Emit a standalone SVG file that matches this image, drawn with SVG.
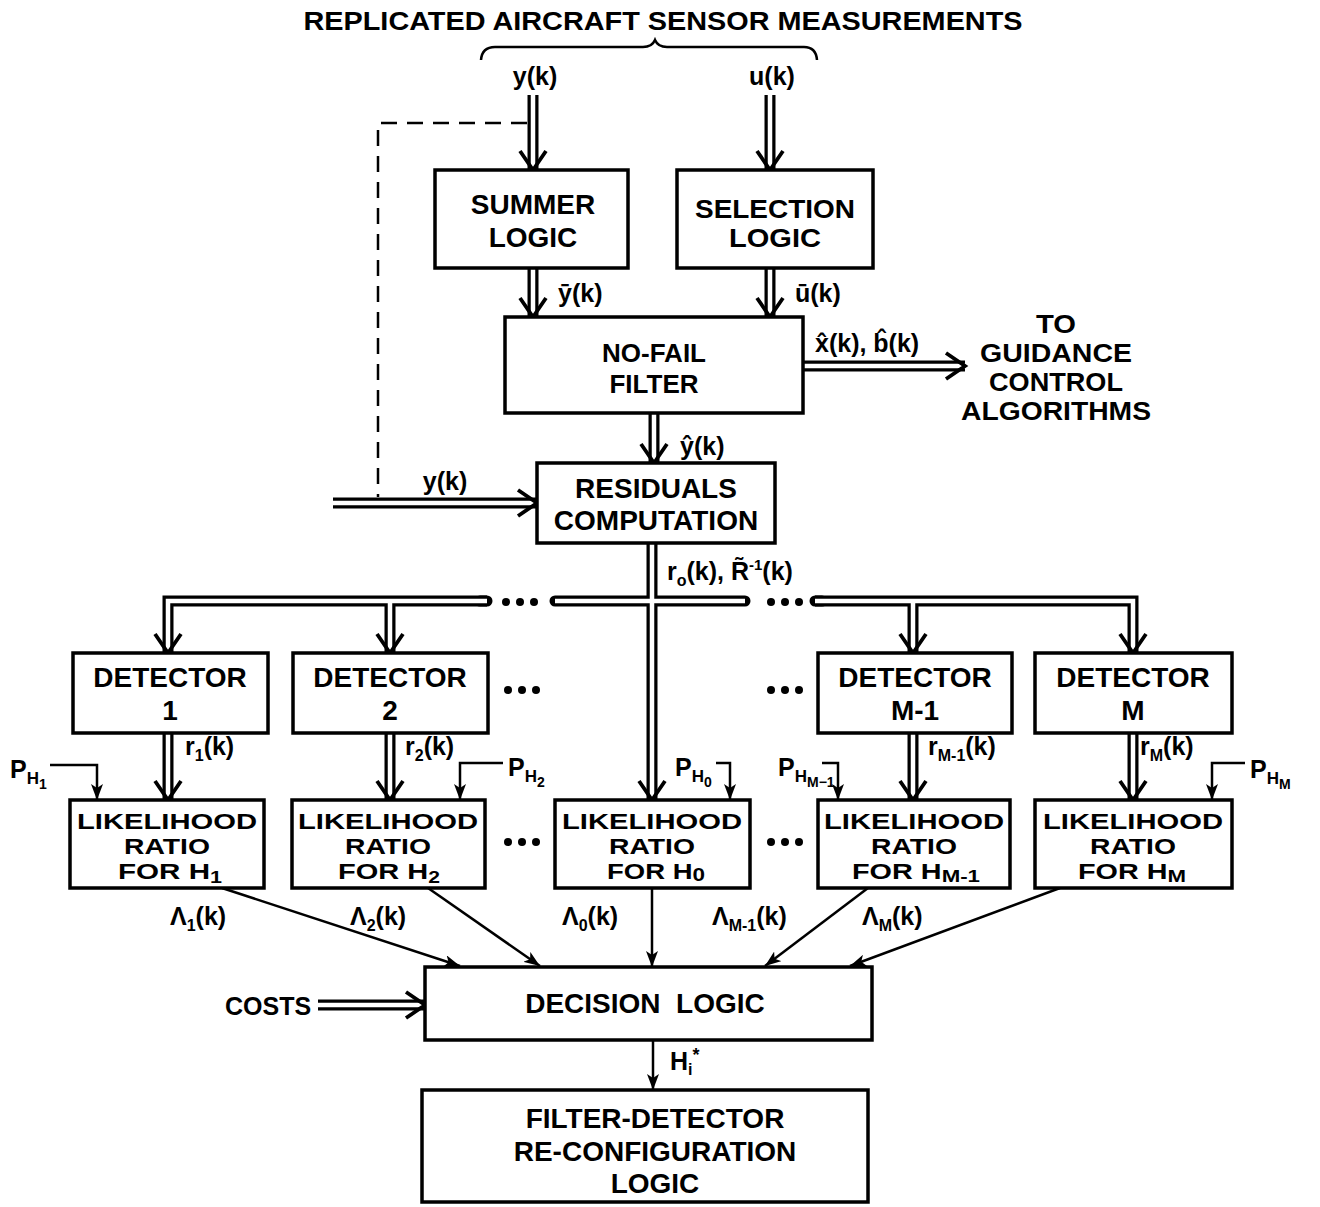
<svg xmlns="http://www.w3.org/2000/svg" width="1320" height="1207" viewBox="0 0 1320 1207">
<style>
.t{font-family:"Liberation Sans",Arial,sans-serif;font-weight:bold;fill:#000;font-size:26px}
.c{text-anchor:middle}
.lb{font-size:25px}
.bx{font-size:28px}
.lr{font-size:22px}
.box{fill:#fff;stroke:#000;stroke-width:3.5}
.dbo{fill:none;stroke:#000;stroke-width:11}
.dbor{fill:none;stroke:#000;stroke-width:11;stroke-linecap:round}
.dbi{fill:none;stroke:#fff;stroke-width:4.5}
.chev{fill:none;stroke:#000;stroke-width:3.8}
.sl{fill:none;stroke:#000;stroke-width:2.5;marker-end:url(#ah)}
.dash{fill:none;stroke:#000;stroke-width:2.5;stroke-dasharray:16 10}
.dot{fill:#000}
</style>
<defs>
<marker id="ah" markerUnits="userSpaceOnUse" markerWidth="18" markerHeight="12" refX="16" refY="6" orient="auto"><path d="M0,0 L16,6 L0,12 L4,6 z" fill="#000"/></marker>
<path id="chev" d="M-13,-19 L0,0 L13,-19"/>
<g id="dots"><circle cx="0" cy="0" r="4"/><circle cx="14" cy="0" r="4"/><circle cx="28" cy="0" r="4"/></g>
</defs>
<rect width="1320" height="1207" fill="#fff"/>

<text class="t c" x="663" y="30" font-size="28" textLength="719" lengthAdjust="spacingAndGlyphs">REPLICATED AIRCRAFT SENSOR MEASUREMENTS</text>
<path d="M481,60 Q482,47 495,47 H643 Q652,47 655,40 Q658,47 667,47 H804 Q816,47 817,60" fill="none" stroke="#000" stroke-width="2.5"/>
<text class="t lb c" x="535" y="85">y(k)</text>
<text class="t lb c" x="772" y="85">u(k)</text>

<g id="connectors">
  <path class="dash" d="M527,123 H378 V497"/>
  <g id="dbl-black">
    <path class="dbo" d="M533,95 V170"/>
    <path class="dbo" d="M770,95 V170"/>
    <path class="dbo" d="M533,268 V317"/>
    <path class="dbo" d="M770,268 V317"/>
    <path class="dbo" d="M803,366 H965"/>
    <path class="dbo" d="M654,413 V463"/>
    <path class="dbo" d="M333,503 H537"/>
    <path class="dbo" d="M652,543 V800"/>
    <path class="dbo" d="M168,653 V601 H487"/>
    <path class="dbor" d="M480,601 H487"/>
    <path class="dbor" d="M555,601 H745"/>
    <path class="dbo" d="M1133,653 V601 H815"/>
    <path class="dbor" d="M822,601 H815"/>
    <path class="dbo" d="M390,601 V653"/>
    <path class="dbo" d="M913,601 V653"/>
    <path class="dbo" d="M168,733 V800"/>
    <path class="dbo" d="M390,733 V800"/>
    <path class="dbo" d="M913,733 V800"/>
    <path class="dbo" d="M1133,733 V800"/>
    <path class="dbo" d="M318,1005 H425"/>
  </g>
  <g id="dbl-white">
    <path class="dbi" d="M533,95 V170"/>
    <path class="dbi" d="M770,95 V170"/>
    <path class="dbi" d="M533,268 V317"/>
    <path class="dbi" d="M770,268 V317"/>
    <path class="dbi" d="M803,366 H965"/>
    <path class="dbi" d="M654,413 V463"/>
    <path class="dbi" d="M333,503 H537"/>
    <path class="dbi" d="M652,543 V800"/>
    <path class="dbi" d="M168,653 V601 H487"/>
    <path class="dbi" d="M555,601 H745"/>
    <path class="dbi" d="M1133,653 V601 H815"/>
    <path class="dbi" d="M390,601 V653"/>
    <path class="dbi" d="M913,601 V653"/>
    <path class="dbi" d="M168,733 V800"/>
    <path class="dbi" d="M390,733 V800"/>
    <path class="dbi" d="M913,733 V800"/>
    <path class="dbi" d="M1133,733 V800"/>
    <path class="dbi" d="M318,1005 H425"/>
  </g>
  <g id="chevrons" class="chev">
    <use href="#chev" x="533" y="170"/>
    <use href="#chev" x="770" y="170"/>
    <use href="#chev" x="533" y="317"/>
    <use href="#chev" x="770" y="317"/>
    <use href="#chev" transform="translate(965,366) rotate(-90)"/>
    <use href="#chev" x="654" y="463"/>
    <use href="#chev" transform="translate(537,503) rotate(-90)"/>
    <use href="#chev" x="652" y="800"/>
    <use href="#chev" x="168" y="653"/>
    <use href="#chev" x="390" y="653"/>
    <use href="#chev" x="913" y="653"/>
    <use href="#chev" x="1133" y="653"/>
    <use href="#chev" x="168" y="800"/>
    <use href="#chev" x="390" y="800"/>
    <use href="#chev" x="913" y="800"/>
    <use href="#chev" x="1133" y="800"/>
    <use href="#chev" transform="translate(425,1005) rotate(-90)"/>
  </g>
  <g id="single">
    <path class="sl" d="M50,765 H97 V800"/>
    <path class="sl" d="M503,763 H460 V800"/>
    <path class="sl" d="M716,763 H730 V800"/>
    <path class="sl" d="M822,763 H838 V800"/>
    <path class="sl" d="M1245,763 H1212 V800"/>
    <path class="sl" d="M222,888 L460,966"/>
    <path class="sl" d="M428,888 L540,966"/>
    <path class="sl" d="M652,888 V967"/>
    <path class="sl" d="M868,888 L765,966"/>
    <path class="sl" d="M1060,888 L850,966"/>
    <path class="sl" d="M653,1040 V1090"/>
  </g>
  <g id="ellipses" class="dot">
    <use href="#dots" x="506" y="602"/>
    <use href="#dots" x="771" y="602"/>
    <use href="#dots" x="508" y="690"/>
    <use href="#dots" x="771" y="690"/>
    <use href="#dots" x="508" y="842"/>
    <use href="#dots" x="771" y="842"/>
  </g>
</g>

<g id="summer"><rect class="box" x="435" y="170" width="193" height="98"/>
<text class="t bx c" x="533" y="214">SUMMER</text><text class="t bx c" x="533" y="247">LOGIC</text></g>
<g id="selection"><rect class="box" x="677" y="170" width="196" height="98"/>
<text class="t c" x="775" y="218" textLength="160" lengthAdjust="spacingAndGlyphs">SELECTION</text><text class="t c" x="775" y="247" textLength="92" lengthAdjust="spacingAndGlyphs">LOGIC</text></g>
<g id="nofail"><rect class="box" x="505" y="317" width="298" height="96"/>
<text class="t c" x="654" y="362" font-size="27">NO-FAIL</text><text class="t c" x="654" y="393" font-size="27">FILTER</text></g>
<g id="guidance">
<text class="t c" x="1056" y="333" textLength="40" lengthAdjust="spacingAndGlyphs">TO</text>
<text class="t c" x="1056" y="362" textLength="152" lengthAdjust="spacingAndGlyphs">GUIDANCE</text>
<text class="t c" x="1056" y="391" textLength="134" lengthAdjust="spacingAndGlyphs">CONTROL</text>
<text class="t c" x="1056" y="420" textLength="190" lengthAdjust="spacingAndGlyphs">ALGORITHMS</text></g>
<g id="residuals"><rect class="box" x="537" y="463" width="238" height="80"/>
<text class="t bx c" x="656" y="498">RESIDUALS</text><text class="t bx c" x="656" y="530">COMPUTATION</text></g>

<g id="det1"><rect class="box" x="73" y="653" width="195" height="80"/>
<text class="t bx c" x="170" y="687">DETECTOR</text><text class="t bx c" x="170" y="720">1</text></g>
<g id="det2"><rect class="box" x="293" y="653" width="195" height="80"/>
<text class="t bx c" x="390" y="687">DETECTOR</text><text class="t bx c" x="390" y="720">2</text></g>
<g id="detm1"><rect class="box" x="818" y="653" width="194" height="80"/>
<text class="t bx c" x="915" y="687">DETECTOR</text><text class="t bx c" x="915" y="720">M-1</text></g>
<g id="detm"><rect class="box" x="1035" y="653" width="197" height="80"/>
<text class="t bx c" x="1133" y="687">DETECTOR</text><text class="t bx c" x="1133" y="720">M</text></g>

<g id="lr1"><rect class="box" x="70" y="800" width="194" height="88"/>
<text class="t lr c" x="167" y="829" textLength="180" lengthAdjust="spacingAndGlyphs">LIKELIHOOD</text>
<text class="t lr c" x="167" y="854" textLength="86" lengthAdjust="spacingAndGlyphs">RATIO</text>
<text class="t lr c" x="170" y="879" textLength="104" lengthAdjust="spacingAndGlyphs">FOR H<tspan font-size="16" dy="4">1</tspan></text></g>
<g id="lr2"><rect class="box" x="292" y="800" width="193" height="88"/>
<text class="t lr c" x="388" y="829" textLength="180" lengthAdjust="spacingAndGlyphs">LIKELIHOOD</text>
<text class="t lr c" x="388" y="854" textLength="86" lengthAdjust="spacingAndGlyphs">RATIO</text>
<text class="t lr c" x="389" y="879" textLength="102" lengthAdjust="spacingAndGlyphs">FOR H<tspan font-size="16" dy="4">2</tspan></text></g>
<g id="lr0"><rect class="box" x="555" y="800" width="195" height="88"/>
<text class="t lr c" x="652" y="829" textLength="180" lengthAdjust="spacingAndGlyphs">LIKELIHOOD</text>
<text class="t lr c" x="652" y="854" textLength="86" lengthAdjust="spacingAndGlyphs">RATIO</text>
<text class="t lr c" x="656" y="879" textLength="98" lengthAdjust="spacingAndGlyphs">FOR H<tspan font-size="18" dy="2">0</tspan></text></g>
<g id="lrm1"><rect class="box" x="818" y="800" width="192" height="88"/>
<text class="t lr c" x="914" y="829" textLength="180" lengthAdjust="spacingAndGlyphs">LIKELIHOOD</text>
<text class="t lr c" x="914" y="854" textLength="86" lengthAdjust="spacingAndGlyphs">RATIO</text>
<text class="t lr c" x="916" y="879" textLength="128" lengthAdjust="spacingAndGlyphs">FOR H<tspan font-size="17" dy="3">M-1</tspan></text></g>
<g id="lrm"><rect class="box" x="1035" y="800" width="197" height="88"/>
<text class="t lr c" x="1133" y="829" textLength="180" lengthAdjust="spacingAndGlyphs">LIKELIHOOD</text>
<text class="t lr c" x="1133" y="854" textLength="86" lengthAdjust="spacingAndGlyphs">RATIO</text>
<text class="t lr c" x="1132" y="879" textLength="108" lengthAdjust="spacingAndGlyphs">FOR H<tspan font-size="17" dy="3">M</tspan></text></g>

<g id="decision"><rect class="box" x="425" y="967" width="447" height="73"/>
<text class="t bx c" x="645" y="1013" xml:space="preserve">DECISION  LOGIC</text></g>
<g id="reconfig"><rect class="box" x="422" y="1090" width="446" height="112"/>
<text class="t bx c" x="655" y="1128">FILTER-DETECTOR</text><text class="t bx c" x="655" y="1161">RE-CONFIGURATION</text>
<text class="t bx c" x="655" y="1193">LOGIC</text></g>

<g id="labels">
<text class="t lb" x="558" y="302">ȳ(k)</text>
<text class="t lb" x="795" y="302">ū(k)</text>
<text class="t lb" x="815" y="352">x̂(k), b̂(k)</text>
<text class="t lb" x="680" y="455">ŷ(k)</text>
<text class="t lb c" x="445" y="490">y(k)</text>
<text class="t lb" x="667" y="580">r<tspan font-size="16" dy="6">o</tspan><tspan dy="-6">(k), R̃</tspan><tspan font-size="15" dy="-10">-1</tspan><tspan dy="10">(k)</tspan></text>
<text class="t lb" x="185" y="755">r<tspan font-size="16" dy="6">1</tspan><tspan dy="-6">(k)</tspan></text>
<text class="t lb" x="405" y="755">r<tspan font-size="16" dy="6">2</tspan><tspan dy="-6">(k)</tspan></text>
<text class="t lb" x="928" y="755">r<tspan font-size="16" dy="6">M-1</tspan><tspan dy="-6">(k)</tspan></text>
<text class="t lb" x="1140" y="755">r<tspan font-size="16" dy="6">M</tspan><tspan dy="-6">(k)</tspan></text>
<text class="t lb" x="10" y="778">P<tspan font-size="17" dy="6">H</tspan><tspan font-size="14" dy="5">1</tspan></text>
<text class="t lb" x="508" y="776">P<tspan font-size="17" dy="6">H</tspan><tspan font-size="14" dy="5">2</tspan></text>
<text class="t lb" x="675" y="776">P<tspan font-size="17" dy="6">H</tspan><tspan font-size="14" dy="5">0</tspan></text>
<text class="t lb" x="778" y="776">P<tspan font-size="17" dy="6">H</tspan><tspan font-size="14" dy="5">M−1</tspan></text>
<text class="t lb" x="1250" y="778">P<tspan font-size="17" dy="6">H</tspan><tspan font-size="14" dy="5">M</tspan></text>
<text class="t lb" x="170" y="925">Λ<tspan font-size="16" dy="6">1</tspan><tspan dy="-6">(k)</tspan></text>
<text class="t lb" x="350" y="925">Λ<tspan font-size="16" dy="6">2</tspan><tspan dy="-6">(k)</tspan></text>
<text class="t lb" x="562" y="925">Λ<tspan font-size="16" dy="6">0</tspan><tspan dy="-6">(k)</tspan></text>
<text class="t lb" x="712" y="925">Λ<tspan font-size="16" dy="6">M-1</tspan><tspan dy="-6">(k)</tspan></text>
<text class="t lb" x="862" y="925">Λ<tspan font-size="16" dy="6">M</tspan><tspan dy="-6">(k)</tspan></text>
<text class="t lb" x="225" y="1015">COSTS</text>
<text class="t lb" x="670" y="1070">H<tspan font-size="16" dy="5">i</tspan><tspan font-size="18" dy="-14">*</tspan></text>
</g>
</svg>
